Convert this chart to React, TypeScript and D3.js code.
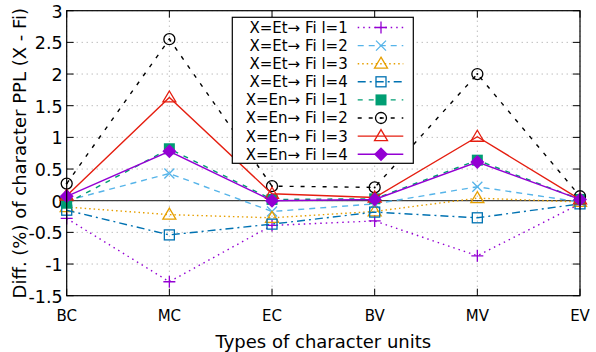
import React from "react";
import * as d3 from "d3";

const categories = ["BC", "MC", "EC", "BV", "MV", "EV"];
const yTicks = [-1.5, -1, -0.5, 0, 0.5, 1, 1.5, 2, 2.5, 3];

const seriesNames = [
  "X=Et\u2192 Fi l=1",
  "X=Et\u2192 Fi l=2",
  "X=Et\u2192 Fi l=3",
  "X=Et\u2192 Fi l=4",
  "X=En\u2192 Fi l=1",
  "X=En\u2192 Fi l=2",
  "X=En\u2192 Fi l=3",
  "X=En\u2192 Fi l=4",
];
const et1 = [-0.28, -1.28, -0.39, -0.32, -0.87, -0.05];
const et2 = [0.0, 0.43, -0.17, -0.05, 0.22, -0.02];
const et3 = [-0.1, -0.22, -0.27, -0.17, 0.04, -0.02];
const et4 = [-0.15, -0.54, -0.37, -0.18, -0.27, -0.05];
const en1 = [-0.04, 0.82, 0.02, 0.03, 0.64, 0.02];
const en2 = [0.27, 2.55, 0.23, 0.21, 2.0, 0.07];
const en3 = [0.08, 1.63, 0.11, 0.05, 1.01, 0.02];
const en4 = [0.07, 0.78, 0.0, 0.02, 0.61, 0.02];
const seriesValues = [et1, et2, et3, et4, en1, en2, en3, en4];

const colors = ["#9400d3", "#56b4e9", "#e69f00", "#0072b2", "#009e73", "#000000", "#e51e10", "#9400d3"];
const dashes = ["1.5,4", "6,5", "1.5,3", "8,4,2,4", "5,6", "4,7", "", ""];
const markers = ["plus", "cross", "tri", "square", "fsquare", "circle", "tri", "diamond"];

const L = 66.7, R = 580, T = 10.7, B = 295.7;
const font = "DejaVu Sans, sans-serif";

function Marker({ type, x, y, c }: { type: string; x: number; y: number; c: string }) {
  const s = 6;
  switch (type) {
    case "plus":
      return <path d={`M${x - s},${y}H${x + s}M${x},${y - s}V${y + s}`} stroke={c} strokeWidth={1.3} fill="none" />;
    case "cross":
      return <path d={`M${x - 5},${y - 5}L${x + 5},${y + 5}M${x - 5},${y + 5}L${x + 5},${y - 5}`} stroke={c} strokeWidth={1.3} fill="none" />;
    case "tri":
      return <path d={`M${x},${y - 6.5}L${x + 6.5},${y + 4.5}L${x - 6.5},${y + 4.5}Z`} stroke={c} strokeWidth={1.3} fill="none" />;
    case "square":
      return <rect x={x - 5} y={y - 5} width={10} height={10} stroke={c} strokeWidth={1.3} fill="none" />;
    case "fsquare":
      return <rect x={x - 5.5} y={y - 5.5} width={11} height={11} fill={c} />;
    case "circle":
      return (
        <g>
          <circle cx={x} cy={y} r={5.5} stroke={c} strokeWidth={1.3} fill="none" />
          <circle cx={x} cy={y} r={1} fill={c} />
        </g>
      );
    case "diamond":
      return <path d={`M${x},${y - 7}L${x + 7},${y}L${x},${y + 7}L${x - 7},${y}Z`} fill={c} />;
  }
  return null;
}

export default function App() {
  const x = d3.scalePoint<string>().domain(categories).range([L, R]);
  const y = d3.scaleLinear().domain([-1.5, 3]).range([B, T]);
  const line = d3
    .line<number>()
    .x((_, i) => x(categories[i]) as number)
    .y((d) => y(d));

  const legX = 232.3, legY = 17.3, legW = 181, legH = 146;
  const rowY = (i: number) => 27.5 + i * 18.1;

  return (
    <svg width={596} height={352} style={{ position: "absolute", left: 0, top: 0 }} fontFamily={font}>
      <rect width={596} height={352} fill="#fff" />
      {/* grid */}
      {yTicks.map((t) => (
        <line key={"gy" + t} x1={L} x2={R} y1={y(t)} y2={y(t)} stroke="#a0a0a0" strokeWidth={1} strokeDasharray="1,4" />
      ))}
      {categories.map((c) => (
        <line key={"gx" + c} x1={x(c)} x2={x(c)} y1={T} y2={B} stroke="#a0a0a0" strokeWidth={1} strokeDasharray="1,4" />
      ))}
      {/* zero line */}
      <line x1={L} x2={R} y1={y(0)} y2={y(0)} stroke="#404040" strokeWidth={1.2} />
      {/* ticks */}
      {yTicks.map((t) => (
        <g key={"ty" + t}>
          <line x1={L} x2={L + 7} y1={y(t)} y2={y(t)} stroke="#000" />
          <line x1={R - 7} x2={R} y1={y(t)} y2={y(t)} stroke="#000" />
          <text x={L - 4} y={y(t)} dy="0.4em" textAnchor="end" fontSize={17.5}>
            {String(t)}
          </text>
        </g>
      ))}
      {categories.map((c) => (
        <g key={"tx" + c}>
          <line x1={x(c)} x2={x(c)} y1={B} y2={B - 7} stroke="#000" />
          <line x1={x(c)} x2={x(c)} y1={T} y2={T + 7} stroke="#000" />
          <text x={x(c)} y={B + 25} textAnchor="middle" fontSize={15}>
            {c}
          </text>
        </g>
      ))}
      {/* series */}
      {seriesValues.map((vals, si) => (
        <g key={"s" + si}>
          <path d={line(vals) || ""} fill="none" stroke={colors[si]} strokeWidth={1.4} strokeDasharray={dashes[si] || undefined} />
          {vals.map((v, i) => (
            <Marker key={i} type={markers[si]} x={x(categories[i]) as number} y={y(v)} c={colors[si]} />
          ))}
        </g>
      ))}
      {/* frame */}
      <rect x={L} y={T} width={R - L} height={B - T} fill="none" stroke="#000" strokeWidth={1.2} />
      {/* legend */}
      <rect x={legX} y={legY} width={legW} height={legH} fill="#fff" stroke="#000" strokeWidth={1.2} />
      {seriesNames.map((n, i) => (
        <g key={"l" + i}>
          <text x={347.7} y={rowY(i)} dy="0.36em" textAnchor="end" fontSize={15}>
            {n}
          </text>
          <line x1={357.7} x2={403.3} y1={rowY(i)} y2={rowY(i)} stroke={colors[i]} strokeWidth={1.4} strokeDasharray={dashes[i] || undefined} />
          <Marker type={markers[i]} x={381} y={rowY(i)} c={colors[i]} />
        </g>
      ))}
      {/* axis labels */}
      <text transform={`translate(20,${(T + B) / 2}) rotate(-90)`} textAnchor="middle" dy="0.36em" fontSize={18}>
        Diff. (%) of character PPL (X - Fi)
      </text>
      <text x={(L + R) / 2} y={348} textAnchor="middle" fontSize={18}>
        Types of character units
      </text>
    </svg>
  );
}
